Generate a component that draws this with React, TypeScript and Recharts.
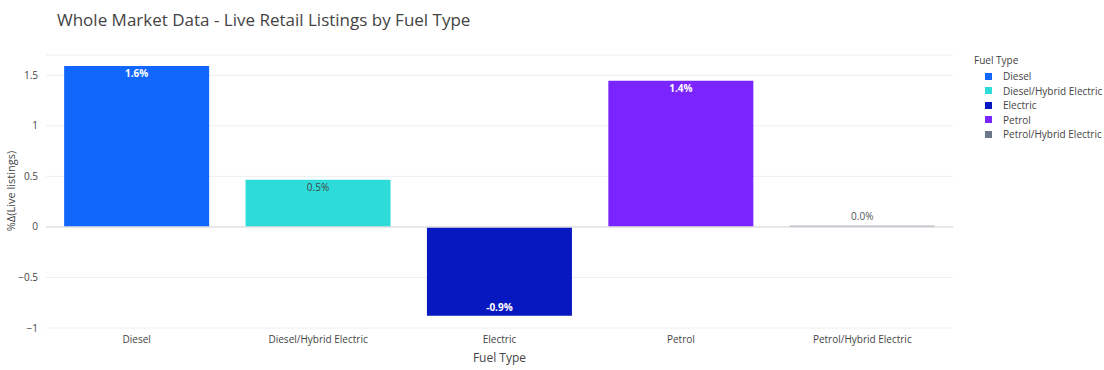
import { BarChart, Bar, XAxis, YAxis, CartesianGrid, Cell, LabelList, ReferenceLine } from "recharts";

const fuelTypes = ["Diesel", "Diesel/Hybrid Electric", "Electric", "Petrol", "Petrol/Hybrid Electric"];
const changePct = [1.59, 0.465, -0.88, 1.445, 0.012];
const fuelColors = ["#1166fb", "#2ddcd8", "#0718c1", "#7a25ff", "#6c778c"];
const yTicks = [-1, -0.5, 0, 0.5, 1, 1.5];

const data = fuelTypes.map((name, i) => ({ name, value: changePct[i], color: fuelColors[i] }));

const font = '"Open Sans", "Noto Sans", sans-serif';

const fmtTick = (v: number) => (v < 0 ? "\u2212" + Math.abs(v) : String(v));

function BarText(props: any) {
  const { x, y, width, height, value, index } = props;
  const cx = x + width / 2;
  const h = Math.abs(height);
  const top = Math.min(y, y + height);
  if (h < 20) {
    return (
      <text x={cx} y={top - 6} textAnchor="middle" fontSize={10} fill="#555" fontFamily={font}>
        {value.toFixed(1)}%
      </text>
    );
  }
  const light = index === 1;
  const ty = value >= 0 ? top + 11 : top + h - 5;
  return (
    <text x={cx} y={ty} textAnchor="middle" fontSize={10} fontWeight={light ? 400 : 700}
      fill={light ? "#444" : "#fff"} fontFamily={font}>
      {value.toFixed(1)}%
    </text>
  );
}

function FuelLegend() {
  return (
    <div style={{ position: "absolute", left: 974, top: 53, fontFamily: font, fontSize: 10, color: "#444", whiteSpace: "nowrap", width: 130, overflow: "hidden" }}>
      <div style={{ marginBottom: 2 }}>Fuel Type</div>
      {fuelTypes.map((f, i) => (
        <div key={f} style={{ display: "flex", alignItems: "center", height: 14.5 }}>
          <span style={{ display: "inline-block", width: 7, height: 7, background: fuelColors[i], marginLeft: 11, marginRight: 11 }} />
          <span>{f}</span>
        </div>
      ))}
    </div>
  );
}

export default function App() {
  return (
    <div style={{ position: "absolute", left: 0, top: 0, width: 1104, height: 370, background: "#fff", overflow: "hidden" }}>
      <div style={{ position: "absolute", left: 57, top: 8, fontFamily: font, fontSize: 17, color: "#444" }}>
        Whole Market Data - Live Retail Listings by Fuel Type
      </div>
      <div style={{ position: "absolute", left: 3, top: 191, transform: "translate(0,-50%) rotate(-90deg)", transformOrigin: "center",
        fontFamily: font, fontSize: 11, color: "#444", width: 14, display: "flex", justifyContent: "center" }}>
        <span style={{ whiteSpace: "nowrap" }}>%Δ(Live listings)</span>
      </div>
      <FuelLegend />
      <BarChart width={1104} height={370} data={data} margin={{ top: 55, right: 151, left: 6, bottom: 0 }} barCategoryGap="10%">
        <CartesianGrid vertical={false} stroke="#eeeeee" />
        <ReferenceLine y={0} stroke="#e2e2e2" strokeWidth={1.5} />
        <XAxis dataKey="name" axisLine={false} tickLine={false} interval={0} height={42}
          tick={{ fontSize: 10, fill: "#444", fontFamily: font }} tickMargin={2}
          label={{ value: "Fuel Type", position: "insideBottom", offset: 8, fontSize: 12, fill: "#444", fontFamily: font }} />
        <YAxis width={40} domain={[-1.0, 1.7]} ticks={yTicks} axisLine={false} tickLine={false}
          tickFormatter={fmtTick} tick={{ fontSize: 10, fill: "#444", fontFamily: font }} allowDataOverflow />
        <Bar dataKey="value" isAnimationActive={false}>
          {data.map((d) => (
            <Cell key={d.name} fill={d.color} />
          ))}
          <LabelList dataKey="value" content={<BarText />} />
        </Bar>
      </BarChart>
    </div>
  );
}
